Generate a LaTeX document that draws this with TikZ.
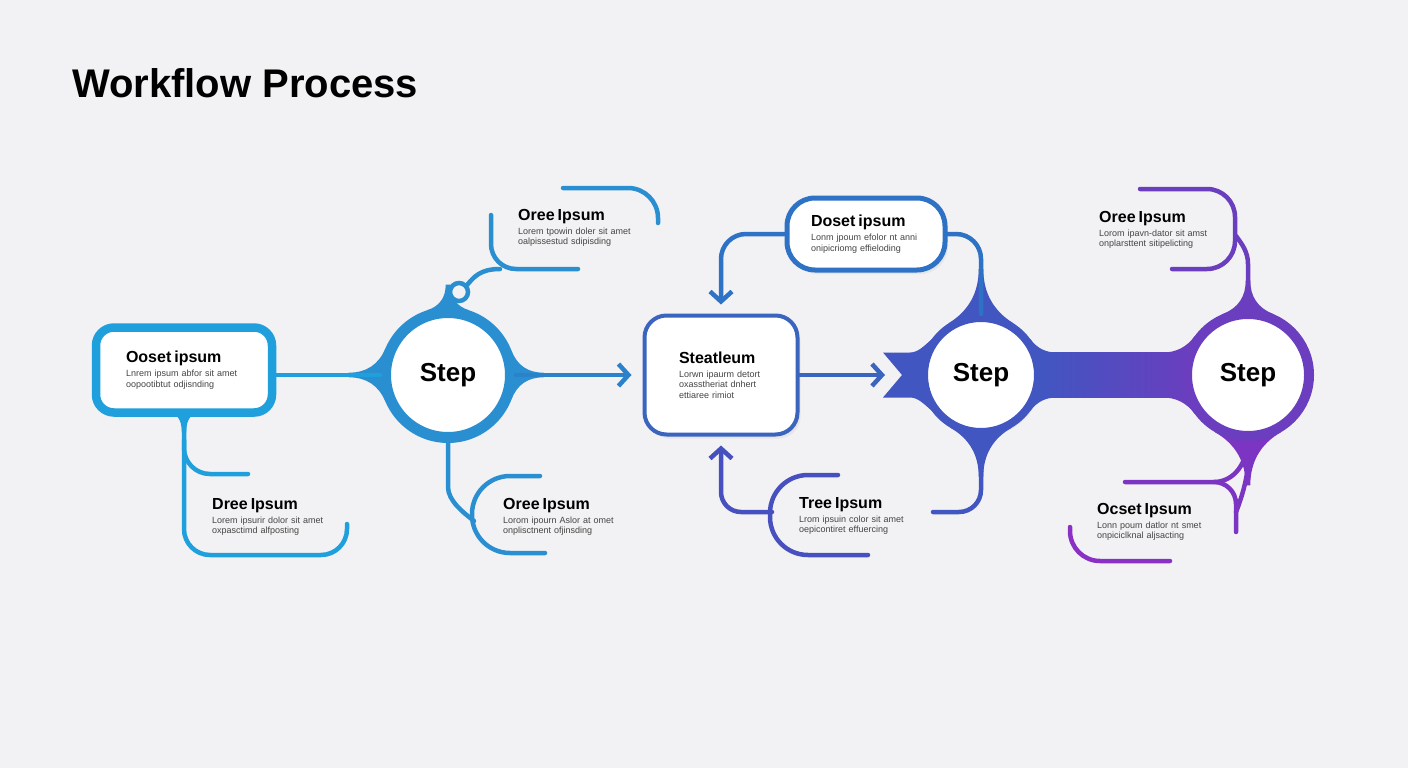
\documentclass[tikz,border=0pt]{standalone}
\usepackage{fontspec}
\setmainfont{Liberation Sans}
\usetikzlibrary{calc,positioning,arrows.meta,shadows}

\definecolor{bg}{HTML}{F2F2F4}
\definecolor{cyanA}{HTML}{1FA0DC}
\definecolor{cyanB}{HTML}{2A8FD0}
\definecolor{blueA}{HTML}{2E72C6}
\definecolor{blueB}{HTML}{3A64BE}
\definecolor{indigoA}{HTML}{4156C0}
\definecolor{indigoB}{HTML}{4650BE}
\definecolor{purpleA}{HTML}{6A3EBF}
\definecolor{purpleB}{HTML}{7C34C2}
\definecolor{purpleC}{HTML}{8A30C4}
\definecolor{bodytext}{HTML}{444444}

\newcommand\hd[1]{{\fontsize{16}{19}\selectfont\bfseries\color{black}#1}\\[3.5pt]}
% flare: centre, direction, colour, outer radius, half angle, half width of tip
\newcommand\flare[6]{%
	\pgfmathsetmacro\fpx{#4*cos(#5)}%
	\pgfmathsetmacro\fpy{#4*sin(#5)}%
	\pgfmathsetmacro\ft{(\fpy-#6)/cos(#5)}%
	\pgfmathsetmacro\fqx{\fpx+\ft*sin(#5)}%
	\pgfmathsetmacro\ftx{\fqx+\ft}%
	\pgfmathsetmacro\fcx{\fpx+2/3*(\fqx-\fpx)}%
	\pgfmathsetmacro\fcy{\fpy+2/3*(#6-\fpy)}%
	\pgfmathsetmacro\fdx{\ftx-2/3*\ft}%
	\fill[#3, shift={(#1)}, rotate=#2]
		(0,0) -- (\fpx,\fpy) .. controls (\fcx,\fcy) and (\fdx,#6) .. (\ftx,#6)
		-- (\ftx,-#6) .. controls (\fdx,-#6) and (\fcx,-\fcy) .. (\fpx,-\fpy) -- cycle;}

\tikzstyle{card} = [
	rectangle,
	rounded corners = 18pt,
	fill = white,
	align = left,
	inner sep = 0pt,
	font = \fontsize{9}{10.5}\selectfont,
	text = bodytext,
	drop shadow = {opacity=0.10, shadow xshift=3pt, shadow yshift=-4pt}
	]
\tikzstyle{note} = [
	anchor = north west,
	inner sep = 0pt,
	align = left,
	text width = 140pt,
	font = \fontsize{9}{10.5}\selectfont,
	text = bodytext
	]
\tikzstyle{stepc} = [
	circle,
	fill = white,
	inner sep = 0pt,
	font = \fontsize{26}{30}\selectfont\bfseries,
	drop shadow = {opacity=0.10, shadow xshift=3pt, shadow yshift=-4pt}
	]
\tikzstyle{conn} = [
	line width = 4.5pt,
	line cap = round,
	draw
	]
\tikzstyle{tip} = [
	-{Straight Barb[length=10pt,width=22pt]}
	]

\begin{document}
\begin{tikzpicture}[x=1pt,y=-1pt]
	\useasboundingbox (0,0) rectangle (1408,768);
	\fill[bg] (0,0) rectangle (1408,768);

	\node[anchor=base west, inner sep=0pt, font=\fontsize{40}{48}\selectfont\bfseries] (title) at (72,97) {Workflow Process};

	\coordinate (c1) at (448,375);
	\coordinate (c2) at (981,375);
	\coordinate (c3) at (1248,375);

	% flares and bar behind the circles
	\flare{c1}{180}{cyanB}{68}{23}{2.3}
	\flare{c1}{0}{cyanB}{68}{21}{2.3}
	\flare{c1}{90}{cyanB}{68}{18}{2.3}
	\flare{c2}{90}{indigoA}{61}{32}{2.3}
	\flare{c2}{270}{indigoA}{61}{30}{2.3}
	\flare{c2}{0}{indigoA}{61}{36}{22.5}
	\flare{c3}{180}{purpleA}{66}{36}{22.5}
	\flare{c3}{90}{purpleA}{66}{22}{2.3}
	\flare{c3}{270}{purpleB}{66}{30}{2.3}
	\shade[left color=indigoA, right color=purpleA] (1040,352.5) rectangle (1190,397.5);
	\fill[indigoA] (883,352.5) -- (902,375) -- (883,397.5) -- (910,397.5)
		.. controls (918,397.5) and (924,404) .. (932,411) -- (932,339)
		.. controls (924,346) and (918,352.5) .. (910,352.5) -- cycle;

	% boxes and steps
	\node[card, draw=cyanA, line width=8.5pt, minimum width=176pt, minimum height=85pt, text width=116pt] (b1) at (184,370)
		{\hd{Ooset ipsum}Lnrem ipsum abfor sit amet\\oopootibtut odjisnding};
	\fill[cyanA] ($(b1.south)+(-14,-3)$) .. controls +(10,0) and +(0,-8) .. ($(b1.south)+(-2.2,16)$)
		-- ($(b1.south)+(2.2,16)$) .. controls +(0,-8) and +(-10,0) .. ($(b1.south)+(14,-3)$) -- cycle;
	\node[card, draw=blueB, line width=4pt, rounded corners=22pt, minimum width=153pt, minimum height=119pt, text width=84pt] (bs) at (721,375)
		{\hd{Steatleum}Lorwn ipaurm detort\\oxasstheriat dnhert\\ettiaree rimiot};
	\node[card, draw=blueA, line width=5pt, rounded corners=28pt, minimum width=158pt, minimum height=72pt, text width=110pt] (bd) at (866,234)
		{\hd{Doset ipsum}Lonm jpoum efolor nt anni\\onipicriomg effieloding};

	\node[stepc, draw=cyanB, line width=11pt, minimum size=125pt] (s1) at (c1) {Step};
	\node[stepc, draw=indigoA, line width=8pt, minimum size=114pt] (s2) at (c2) {Step};
	\node[stepc, draw=purpleA, line width=10pt, minimum size=122pt] (s3) at (c3) {Step};

	% texts
	\node[note] (n1) at (518,209) {\hd{Oree Ipsum}Lorem tpowin doler sit amet\\oalpissestud sdipisding};
	\node[note] (n2) at (212,498) {\hd{Dree Ipsum}Lorem ipsurir dolor sit amet\\oxpasctimd alfposting};
	\node[note] (n3) at (503,498) {\hd{Oree Ipsum}Lorom ipourn Aslor at omet\\onplisctnent ofjinsding};
	\node[note] (n4) at (799,497) {\hd{Tree Ipsum}Lrom ipsuin color sit amet\\oepicontiret effuercing};
	\node[note] (n5) at (1099,211) {\hd{Oree Ipsum}Lorom ipavn-dator sit amst\\onplarsttent sitipelicting};
	\node[note] (n6) at (1097,503) {\hd{Ocset Ipsum}Lonn poum datlor nt smet\\onpiciclknal aljsacting};

	% cyan part
	\draw[conn, cyanA] (b1.east |- s1.west) -- (s1.west);
	\draw[conn, cyanA, rounded corners=26pt] (b1.south) |- (347,555) -- (347,524);
	\draw[conn, cyanA, rounded corners=26pt] (184,440) |- (248,474);
	\draw[conn, cyanB, rounded corners=25pt] (491,215) |- (578,269);
	\draw[conn, cyanB, rounded corners=30pt] (563,188) -| (658,223);
	\draw[conn, cyanB] (459,292) circle (9);
	\draw[conn, cyanB] (467,285) .. controls (474,277) and (480,269) .. (500,269);
	\coordinate (j1) at (474,521);
	\draw[conn, cyanB, rounded corners=38pt] (540,476) -| (472,553) -- (545,553);
	\draw[conn, cyanB] (s1.south) -- ++(0,44) .. controls +(0,14) and +(-10,-8) .. (j1);
	\draw[conn, cyanB!50!blueA, tip, shorten >=11pt] (s1.east) -- (bs.west);

	% blue part
	\draw[conn, blueA, tip, rounded corners=25pt, shorten >=9pt] (bd.west) -| (bs.north);
	\draw[conn, blueA, rounded corners=25pt] (bd.east) -| (s2.north);
	\coordinate (j2) at (772,512);
	\draw[conn, indigoB, rounded corners=38pt] (838,475) -| (770,555) -- (868,555);
	\draw[conn, indigoB, tip, rounded corners=20pt, shorten >=9pt] (j2) -| (bs.south);
	\coordinate (t2) at (933,512);
	\draw[conn, indigoA, rounded corners=22pt] (s2.south) |- (t2);
	\coordinate (nt) at (885,375);
	\draw[conn, blueB, tip] (bs.east) -- (nt);

	% purple part
	\draw[conn, purpleA, rounded corners=28pt] (1140,189) -| (1235,269) -- (1172,269);
	\coordinate (j3) at (1236,236);
	\draw[conn, purpleA] (s3.north) -- ++(0,-45) .. controls +(0,-12) and +(6,8) .. (j3);
	\draw[conn, purpleB, rounded corners=22pt] (1125,482) -| (1236,532);
	\coordinate (j4) at (1236,512);
	\coordinate (j5) at (1214,482);
	\draw[conn, purpleB] (s3.south) -- ++(0,20) .. controls +(0,18) and +(4,-10) .. (j4);
	\draw[conn, purpleB] (s3.south) .. controls +(-2,28) and +(16,0) .. (j5);
	\draw[conn, purpleC, rounded corners=30pt] (1070,527) |- (1170,561);
\end{tikzpicture}
\end{document}
